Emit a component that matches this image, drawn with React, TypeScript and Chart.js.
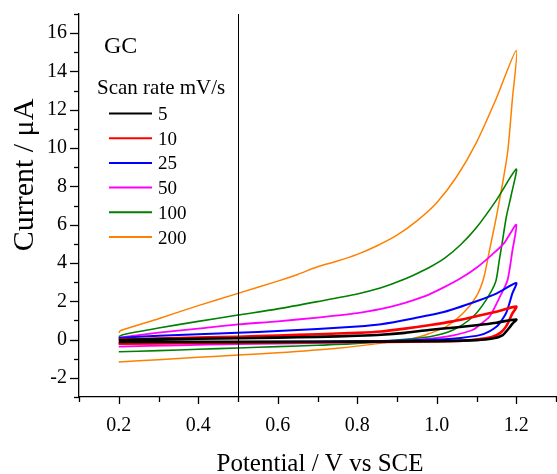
import React, { useEffect, useRef } from "react";
import { Chart, registerables } from "chart.js";
Chart.register(...registerables);

const scanRates = ["5", "10", "25", "50", "100", "200"];
const seriesColors = ["#000000", "#ff0000", "#0000ff", "#ff00ff", "#008000", "#ff8000"];
const seriesWidths = [2.6, 2.6, 2, 1.8, 1.6, 1.5];

const xTickLabels = ["0.2", "0.4", "0.6", "0.8", "1.0", "1.2"];
const yTickLabels = ["-2", "0", "2", "4", "6", "8", "10", "12", "14", "16"];

const potential5 = [0.2, 0.3, 0.4, 0.5, 0.6, 0.7, 0.8, 0.86, 0.92, 0.98, 1.04, 1.1, 1.15, 1.2, 1.19, 1.18, 1.165, 1.14, 1.1, 1.0, 0.9, 0.8, 0.6, 0.4, 0.2];
const current5 = [-0.02, 0.02, 0.04, 0.07, 0.1, 0.14, 0.2, 0.25, 0.35, 0.5, 0.62, 0.75, 0.88, 1.05, 0.82, 0.55, 0.22, 0.05, -0.03, -0.08, -0.1, -0.11, -0.12, -0.12, -0.12];

const potential10 = [0.2, 0.3, 0.4, 0.5, 0.6, 0.7, 0.8, 0.86, 0.92, 0.98, 1.04, 1.1, 1.15, 1.2, 1.19, 1.175, 1.16, 1.14, 1.1, 1.066, 0.94, 0.8, 0.6, 0.4, 0.2];
const current10 = [0.0, 0.05, 0.1, 0.15, 0.21, 0.28, 0.35, 0.42, 0.57, 0.75, 0.95, 1.22, 1.45, 1.72, 1.35, 0.7, 0.35, 0.15, 0.0, -0.06, -0.11, -0.13, -0.15, -0.18, -0.22];

const potential25 = [0.2, 0.3, 0.4, 0.5, 0.6, 0.7, 0.8, 0.86, 0.94, 1.02, 1.1, 1.15, 1.2, 1.19, 1.175, 1.16, 1.15, 1.13, 1.108, 1.06, 1.02, 0.86, 0.6, 0.4, 0.2];
const current25 = [0.08, 0.2, 0.28, 0.35, 0.45, 0.55, 0.68, 0.8, 1.1, 1.45, 2.0, 2.4, 2.95, 2.4, 1.4, 0.9, 0.67, 0.4, 0.23, 0.08, 0.01, -0.08, -0.12, -0.15, -0.2];

const potential50 = [0.2, 0.3, 0.4, 0.5, 0.6, 0.7, 0.8, 0.86, 0.9, 0.94, 0.98, 1.02, 1.06, 1.1, 1.14, 1.17, 1.2, 1.19, 1.178, 1.158, 1.133, 1.11, 1.09, 1.024, 0.94, 0.86, 0.7, 0.5, 0.35, 0.2];
const current50 = [0.1, 0.36, 0.57, 0.79, 0.95, 1.15, 1.38, 1.6, 1.8, 2.05, 2.35, 2.75, 3.2, 3.75, 4.45, 5.05, 6.0, 4.6, 3.1, 2.2, 1.2, 0.8, 0.5, 0.15, -0.03, -0.11, -0.18, -0.24, -0.3, -0.37];

const potential100 = [0.2, 0.21, 0.3, 0.4, 0.5, 0.6, 0.7, 0.8, 0.86, 0.9, 0.94, 0.98, 1.02, 1.06, 1.1, 1.15, 1.2, 1.188, 1.175, 1.165, 1.157, 1.148, 1.124, 1.091, 1.041, 0.982, 0.9, 0.8, 0.7, 0.6, 0.5, 0.4, 0.3, 0.2];
const current100 = [0.15, 0.25, 0.6, 0.95, 1.28, 1.6, 1.98, 2.38, 2.7, 3.0, 3.35, 3.75, 4.25, 4.95, 5.85, 7.28, 8.9, 7.6, 6.4, 5.1, 4.1, 3.0, 2.06, 1.19, 0.5, 0.15, -0.03, -0.2, -0.3, -0.37, -0.44, -0.51, -0.58, -0.64];

const potential200 = [0.2, 0.205, 0.3, 0.4, 0.5, 0.6, 0.65, 0.7, 0.75, 0.8, 0.85, 0.9, 0.95, 1.0, 1.05, 1.1, 1.15, 1.2, 1.19, 1.179, 1.166, 1.149, 1.133, 1.118, 1.099, 1.066, 1.024, 0.98, 0.94, 0.857, 0.75, 0.6, 0.5, 0.4, 0.3, 0.2];
const current200 = [0.35, 0.47, 1.09, 1.77, 2.41, 3.05, 3.4, 3.8, 4.1, 4.45, 4.9, 5.45, 6.2, 7.15, 8.5, 10.3, 12.6, 15.1, 12.5, 9.9, 8.2, 6.3, 4.7, 3.2, 2.23, 1.37, 0.67, 0.3, 0.05, -0.2, -0.45, -0.69, -0.81, -0.93, -1.05, -1.17];

const potentials = [potential5, potential10, potential25, potential50, potential100, potential200];
const currents = [current5, current10, current25, current50, current100, current200];

const SERIF = "'Liberation Serif', 'Times New Roman', serif";

const overlayPlugin = {
  id: "overlay",
  afterDatasetsDraw(chart: any) {
    const ctx = chart.ctx;
    const xs = chart.scales.x;
    const area = chart.chartArea;
    ctx.save();
    const xv = Math.round(xs.getPixelForValue(0.5)) + 0.5;
    ctx.strokeStyle = "#000";
    ctx.lineWidth = 1;
    ctx.beginPath();
    ctx.moveTo(xv, area.top);
    ctx.lineTo(xv, area.bottom);
    ctx.stroke();
    ctx.restore();
  },
  afterDraw(chart: any) {
    const ctx = chart.ctx;
    const xs = chart.scales.x;
    const ys = chart.scales.y;
    const area = chart.chartArea;
    ctx.save();
    ctx.strokeStyle = "#000";
    ctx.lineWidth = 1.3;
    for (let v = -3; v <= 17; v++) {
      const y = Math.round(ys.getPixelForValue(v)) + 0.5;
      const len = v % 2 === 0 ? 9 : 5;
      ctx.beginPath();
      ctx.moveTo(area.left - len, y);
      ctx.lineTo(area.left, y);
      ctx.stroke();
    }
    for (let i = 1; i <= 13; i++) {
      const x = Math.round(xs.getPixelForValue(i / 10)) + 0.5;
      const len = i % 2 === 0 ? 7 : 5;
      ctx.beginPath();
      ctx.moveTo(x, area.bottom);
      ctx.lineTo(x, area.bottom + len);
      ctx.stroke();
    }
    ctx.fillStyle = "#000";
    ctx.save();
    ctx.translate(33, 175);
    ctx.rotate(-Math.PI / 2);
    ctx.font = `30px ${SERIF}`;
    ctx.textAlign = "center";
    ctx.textBaseline = "alphabetic";
    ctx.fillText("Current / \u03bcA", 0, 0);
    ctx.restore();
    ctx.font = `25px ${SERIF}`;
    ctx.textAlign = "center";
    ctx.textBaseline = "alphabetic";
    ctx.fillText("Potential / V vs SCE", 320, 471);
    ctx.textAlign = "left";
    ctx.font = `24px ${SERIF}`;
    ctx.fillText("GC", 104, 53);
    ctx.font = `21px ${SERIF}`;
    ctx.fillText("Scan rate mV/s", 97, 94);
    const ds = chart.data.datasets;
    ds.forEach((d: any, i: number) => {
      const y = 113.5 + i * 24.7;
      ctx.strokeStyle = d.borderColor;
      ctx.lineWidth = 2;
      ctx.beginPath();
      ctx.moveTo(109, y);
      ctx.lineTo(152, y);
      ctx.stroke();
      ctx.fillStyle = "#000";
      ctx.font = `19px ${SERIF}`;
      ctx.fillText(d.label, 158, y + 6.5);
    });
    ctx.restore();
  },
};

export default function App() {
  const ref = useRef<HTMLCanvasElement | null>(null);
  useEffect(() => {
    if (!ref.current) return;
    const datasets = scanRates.map((label, i) => ({
      label,
      data: potentials[i].map((p, j) => ({ x: p, y: currents[i][j] })),
      borderColor: seriesColors[i],
      backgroundColor: seriesColors[i],
      borderWidth: seriesWidths[i],
      showLine: true,
      pointRadius: 0,
      tension: 0.25,
      fill: false,
    }));
    const chart = new Chart(ref.current, {
      type: "scatter",
      data: { datasets },
      options: {
        animation: false,
        responsive: false,
        layout: { padding: { top: 14, right: 1, left: 0, bottom: 0 } },
        plugins: { legend: { display: false }, tooltip: { enabled: false }, title: { display: false } },
        scales: {
          x: {
            type: "linear",
            min: 0.1,
            max: 1.3,
            afterFit: (s: any) => { s.height = 77; s.paddingLeft = 0; s.paddingRight = 0; },
            grid: { drawOnChartArea: false, drawTicks: false },
            border: { display: true, color: "#000", width: 1.3 },
            ticks: {
              stepSize: 0.1,
              autoSkip: false,
              maxRotation: 0,
              padding: 17,
              color: "#000",
              font: { family: SERIF, size: 20 },
              callback: (v: any) => {
                const s = Number(v).toFixed(1);
                return xTickLabels.includes(s) ? s : "";
              },
            },
          },
          y: {
            type: "linear",
            min: -3,
            max: 17,
            afterFit: (s: any) => { s.width = 79; s.paddingTop = 0; s.paddingBottom = 0; },
            grid: { drawOnChartArea: false, drawTicks: false },
            border: { display: true, color: "#000", width: 1.3 },
            ticks: {
              stepSize: 1,
              autoSkip: false,
              padding: 12,
              color: "#000",
              font: { family: SERIF, size: 20 },
              callback: (v: any) => {
                const s = String(Math.round(Number(v)));
                return yTickLabels.includes(s) ? s : "";
              },
            },
          },
        },
      },
      plugins: [overlayPlugin],
    });
    return () => chart.destroy();
  }, []);
  return (
    <div style={{ position: "absolute", left: 0, top: 0, width: 557, height: 474, background: "#fff" }}>
      <canvas ref={ref} width={557} height={474} style={{ display: "block" }} />
    </div>
  );
}
